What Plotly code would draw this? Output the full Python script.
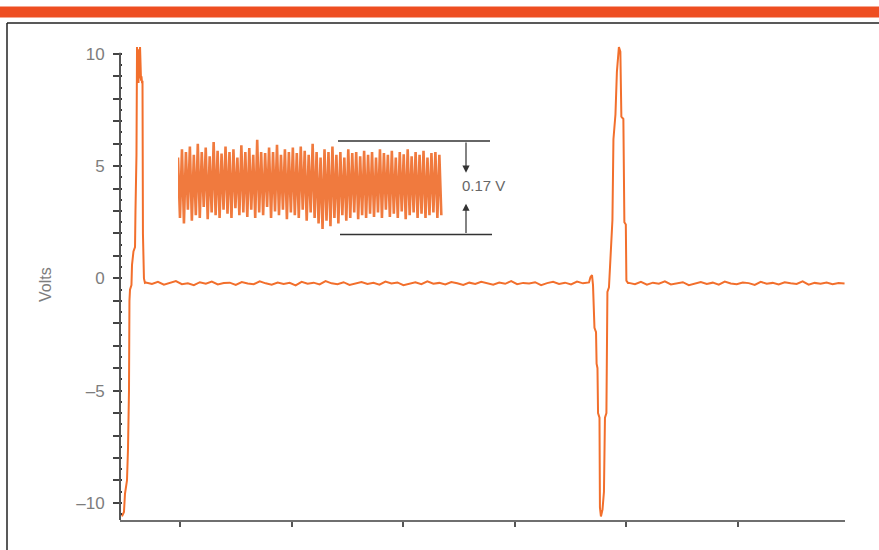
import numpy as np
import plotly.graph_objects as go

# ---------------- data (time in µs, voltage in V) ----------------
spike1_t = [0.480, 0.498, 0.507, 0.525, 0.534, 0.543, 0.547, 0.552, 0.565, 0.570,
            0.583, 0.597, 0.601, 0.610, 0.615, 0.620, 0.624, 0.628, 0.633, 0.637,
            0.642, 0.651, 0.655, 0.660, 0.664, 0.668, 0.677, 0.686]
spike1_v = [-10.6, -10.4, -9.6, -9.0, -7.6, -5.0, -1.0, -0.5, -0.3, 0.6,
            1.2, 1.4, 3.0, 5.5, 10.3, 8.8, 10.2, 8.7, 10.1, 8.9,
            10.3, 8.8, 9.0, 8.7, 8.8, 2.0, 0.0, -0.2]

baseline1_v = [-0.18, -0.25, -0.15, -0.28, -0.20, -0.12, -0.26, -0.22, -0.30, -0.17,
               -0.24, -0.14, -0.27, -0.21, -0.19, -0.29, -0.16, -0.23, -0.26, -0.13,
               -0.22, -0.28, -0.18, -0.25, -0.20, -0.31, -0.15, -0.24, -0.19, -0.27,
               -0.12, -0.22, -0.26, -0.17, -0.29, -0.21, -0.16, -0.25, -0.20, -0.28,
               -0.14, -0.23, -0.18, -0.30, -0.22, -0.17, -0.26, -0.13, -0.24, -0.20,
               -0.27, -0.16, -0.22, -0.29, -0.19, -0.25, -0.15, -0.21, -0.28, -0.18,
               -0.24, -0.12, -0.26, -0.20, -0.23, -0.17, -0.30, -0.21, -0.15, -0.25,
               -0.19, -0.27, -0.14, -0.22, -0.18]
baseline1_span = (0.695, 4.665)

spike2_t = [4.678, 4.692, 4.701, 4.714, 4.728, 4.733, 4.741, 4.746, 4.759, 4.763,
            4.772, 4.786, 4.799, 4.808, 4.821, 4.830, 4.844, 4.853, 4.862, 4.875,
            4.884, 4.902, 4.915, 4.933, 4.946, 4.955, 4.973, 4.982, 4.995, 5.000,
            5.014]
spike2_v = [0.05, 0.15, -0.3, -2.2, -2.4, -3.8, -4.0, -6.0, -6.2, -10.2,
            -10.6, -10.3, -9.5, -6.2, -6.0, -0.6, -0.4, 0.4, 1.6, 2.6,
            6.2, 7.3, 9.2, 10.3, 10.1, 7.2, 7.1, 2.5, 2.4, -0.1,
            -0.2]

baseline2_v = [-0.20, -0.26, -0.15, -0.28, -0.19, -0.24, -0.13, -0.27, -0.21, -0.17,
               -0.30, -0.22, -0.16, -0.25, -0.19, -0.28, -0.14, -0.23, -0.26, -0.18,
               -0.21, -0.29, -0.15, -0.24, -0.20, -0.27, -0.17, -0.22, -0.25, -0.13,
               -0.28, -0.20, -0.24, -0.18, -0.26, -0.21, -0.23]
baseline2_span = (5.023, 6.955)

# inset: zoomed-in ripple on the flat part (V above its minimum)
ripple_v = [0.140, 0.030, 0.155, 0.020, 0.150, 0.045, 0.160, 0.025, 0.145, 0.035,
            0.165, 0.030, 0.150, 0.050, 0.158, 0.028, 0.142, 0.040, 0.168, 0.035,
            0.152, 0.030, 0.147, 0.045, 0.160, 0.038, 0.150, 0.030, 0.155, 0.048,
            0.140, 0.035, 0.162, 0.040, 0.150, 0.032, 0.157, 0.045, 0.145, 0.030,
            0.172, 0.040, 0.150, 0.035, 0.148, 0.050, 0.158, 0.030, 0.150, 0.042,
            0.163, 0.035, 0.145, 0.045, 0.155, 0.028, 0.150, 0.040, 0.158, 0.035,
            0.148, 0.030, 0.160, 0.045, 0.152, 0.025, 0.145, 0.040, 0.165, 0.030,
            0.150, 0.020, 0.140, 0.010, 0.155, 0.025, 0.150, 0.015, 0.160, 0.030,
            0.145, 0.020, 0.150, 0.035, 0.140, 0.025, 0.155, 0.030, 0.148, 0.040,
            0.150, 0.028, 0.142, 0.035, 0.152, 0.030, 0.145, 0.038, 0.150, 0.032,
            0.140, 0.040, 0.155, 0.030, 0.148, 0.045, 0.145, 0.032, 0.152, 0.038,
            0.140, 0.030, 0.150, 0.042, 0.146, 0.028, 0.155, 0.035, 0.142, 0.040,
            0.150, 0.030, 0.145, 0.038, 0.152, 0.030, 0.140, 0.035, 0.148, 0.040,
            0.150, 0.030, 0.145, 0.035]
ripple_pp = 0.17
ripple_label = "0.17 V"

y_tickvals = list(range(-10, 11))
y_ticktext = [str(v).replace("-", "\u2013") if v % 5 == 0 else "" for v in y_tickvals]
x_tickvals = [1, 2, 3, 4, 5, 6]
y_title = "Volts"

# ---------------- assemble waveform ----------------
b1_t = np.linspace(baseline1_span[0], baseline1_span[1], len(baseline1_v))
b2_t = np.linspace(baseline2_span[0], baseline2_span[1], len(baseline2_v))
t = np.concatenate([spike1_t, b1_t, spike2_t, b2_t])
v = np.concatenate([spike1_v, baseline1_v, spike2_v, baseline2_v])
ripple_t = np.arange(len(ripple_v))

ORANGE = "#F26F2C"
GRAY = "#7d7d7d"
FONT = "Liberation Sans"

fig = go.Figure()
fig.add_trace(go.Scatter(x=t, y=v, mode="lines", line=dict(color=ORANGE, width=2),
                         showlegend=False, hoverinfo="skip"))
fig.add_trace(go.Scatter(x=ripple_t, y=ripple_v, mode="lines", xaxis="x2", yaxis="y2",
                         line=dict(color="#F07A3E", width=2.6), showlegend=False,
                         hoverinfo="skip"))

W, H = 879, 550
L, R, T, B = 120, 34, 46, 30
PW, PH = W - L - R, H - T - B


def px(xp):
    return (xp - L) / PW


def py(yp):
    return (H - B - yp) / PH


x_range = [0.4624, 6.959]
y_range = [-10.76, 10.35]

# inset axes geometry
x2_scale = 1.98  # px per sample
x2_range = [0, (492 - 178) / x2_scale]
y2_scale = 550.0  # px per volt
y2_range = [-0.01, 0.18]
y2_bottom_px = 234.5 + 0.01 * y2_scale
y2_top_px = 234.5 - 0.18 * y2_scale

fig.update_layout(
    width=W, height=H,
    margin=dict(l=L, r=R, t=T, b=B),
    paper_bgcolor="white", plot_bgcolor="white",
    font=dict(family=FONT, color=GRAY, size=16),
    xaxis=dict(range=x_range, showgrid=False, zeroline=False, showline=True,
               linecolor="#6f6f6f", linewidth=2, tickmode="array", tickvals=x_tickvals,
               ticks="outside", ticklen=5, tickwidth=1.5, tickcolor="#555",
               showticklabels=False),
    yaxis=dict(range=y_range, showgrid=False, zeroline=False, showline=False,
               tickmode="array", tickvals=y_tickvals, ticktext=y_ticktext,
               ticks="outside", ticklen=6, tickwidth=1.5, tickcolor="#444",
               ticklabelstandoff=5, tickfont=dict(size=17, color=GRAY),
               minor=dict(dtick=0.5, tick0=0, ticks="inside", ticklen=1.5,
                          tickcolor="#333", tickwidth=1.5)),
    xaxis2=dict(domain=[px(178), px(492)], range=x2_range, anchor="y2", visible=False),
    yaxis2=dict(domain=[py(y2_bottom_px), py(y2_top_px)], range=y2_range, anchor="x2",
                visible=False),
)

shapes = [
    # orange header band
    dict(type="rect", xref="paper", yref="paper", x0=px(0), x1=px(W), y0=py(17.5), y1=py(6.5),
         fillcolor="#EE4E22", line=dict(width=0), layer="above"),
    # frame
    dict(type="line", xref="paper", yref="paper", x0=px(7), x1=px(W), y0=py(23), y1=py(23),
         line=dict(color="#222", width=1.5)),
    dict(type="line", xref="paper", yref="paper", x0=px(7), x1=px(7), y0=py(23), y1=py(H),
         line=dict(color="#222", width=1.5)),
    # y axis line
    dict(type="line", xref="x domain", yref="y", x0=0, x1=0, y0=y_range[0], y1=10.05,
         line=dict(color="#555", width=2), layer="above"),
    # dimension lines of the inset
    dict(type="line", xref="x2", yref="y2", x0=(338 - 178) / x2_scale, x1=(490 - 178) / x2_scale,
         y0=ripple_pp, y1=ripple_pp, line=dict(color="#333", width=1.5)),
    dict(type="line", xref="x2", yref="y2", x0=(340 - 178) / x2_scale, x1=(492 - 178) / x2_scale,
         y0=0, y1=0, line=dict(color="#333", width=1.5)),
]
fig.update_layout(shapes=shapes)

arrow_x = (466 - 178) / x2_scale
annotations = [
    dict(x=arrow_x, y=ripple_pp * 0.66, ax=arrow_x, ay=ripple_pp, xref="x2", yref="y2",
         axref="x2", ayref="y2", showarrow=True, arrowhead=2, arrowsize=1.2, arrowwidth=1.2,
         arrowcolor="#333", text=""),
    dict(x=arrow_x, y=ripple_pp * 0.33, ax=arrow_x, ay=0, xref="x2", yref="y2",
         axref="x2", ayref="y2", showarrow=True, arrowhead=2, arrowsize=1.2, arrowwidth=1.2,
         arrowcolor="#333", text=""),
    dict(x=(460 - 178) / x2_scale, y=ripple_pp * 0.52, xref="x2", yref="y2", showarrow=False,
         text=ripple_label, xanchor="left", yanchor="middle",
         font=dict(size=15, color="#666", family=FONT)),
    dict(x=px(45), y=py(285), xref="paper", yref="paper", showarrow=False, text=y_title,
         textangle=-90, font=dict(size=16, color=GRAY, family=FONT),
         xanchor="center", yanchor="middle"),
]
fig.update_layout(annotations=annotations)

fig.write_html("out.html")
